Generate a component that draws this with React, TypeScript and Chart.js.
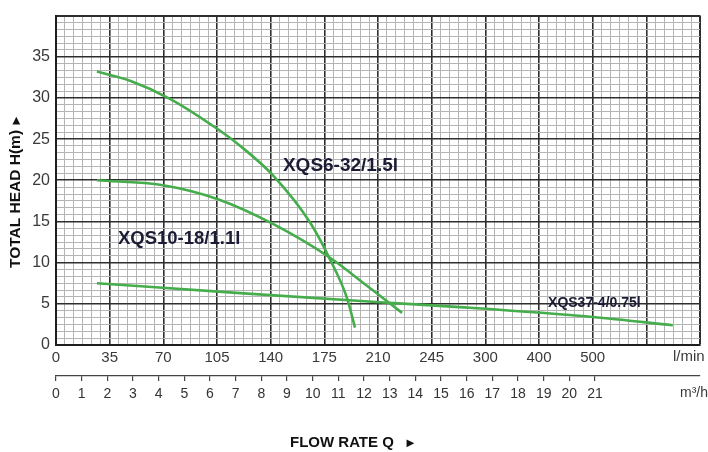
import React, { useEffect, useRef } from 'react';
import { Chart, registerables } from 'chart.js';

Chart.register(...registerables);

// Flow axis (l/min): 12 printed divisions, 35 l/min per division on the scale
const flowLabels = ['0', '35', '70', '105', '140', '175', '210', '245', '300', '400', '500', '', ''];
const flowPerDivision = 35;
const flowDivisions = 12;
const minorPerMajor = 6;

// Head axis (m)
const headLabels = ['0', '5', '10', '15', '20', '25', '30', '35', ''];
const headPerDivision = 5;
const headDivisions = 8;

// Second flow axis (m³/h)
const cubicLabels = ['0', '1', '2', '3', '4', '5', '6', '7', '8', '9', '10', '11', '12', '13', '14', '15', '16', '17', '18', '19', '20', '21'];
const cubicMax = 25.09;

// Pump curves
const xqs6Flow = [26.7, 48.3, 74.3, 105.6, 120, 141.5, 165.6, 178.7, 189.8, 195];
const xqs6Head = [33.2, 32.1, 29.9, 26.2, 24.2, 20.6, 14.9, 10.4, 5.7, 2.1];

const xqs10Flow = [26.7, 69.8, 105.6, 141.5, 178.7, 202.8, 225.7];
const xqs10Head = [20.0, 19.4, 17.7, 14.7, 10.6, 7.2, 3.9];

const xqs37Flow = [26.7, 120, 211.3, 263.4, 350.1, 402.3];
const xqs37Head = [7.5, 6.3, 5.2, 4.6, 3.4, 2.4];

// Curve name labels (anchored in data units)
const curveNames = ['XQS6-32/1.5l', 'XQS10-18/1.1l', 'XQS37-4/0.75l'];
const curveNameFlow = [148, 40.4, 320.9];
const curveNameHead = [21.8, 12.9, 5.1];
const curveNameSize = [19, 18.5, 14];

const GREEN = '#45ad4b';
const SANS = "'Liberation Sans', Arial, sans-serif";

const pts = (xs: number[], ys: number[]) => xs.map((x, i) => ({ x, y: ys[i] }));

const textPlugin = {
  id: 'pumpTexts',
  afterDraw(chart: any) {
    const { ctx, scales } = chart;
    const x = scales.x;
    const y = scales.y;
    const x2 = scales.x2;
    ctx.save();
    // curve names
    ctx.fillStyle = '#1b1b35';
    ctx.textBaseline = 'middle';
    ctx.textAlign = 'left';
    curveNames.forEach((name, i) => {
      ctx.font = `bold ${curveNameSize[i]}px ${SANS}`;
      ctx.fillText(name, x.getPixelForValue(curveNameFlow[i]), y.getPixelForValue(curveNameHead[i]));
    });
    // units
    ctx.fillStyle = '#3a3a3a';
    ctx.font = `15px ${SANS}`;
    ctx.fillText('l/min', x.right - 27, x.top + 12);
    ctx.font = `14px ${SANS}`;
    ctx.fillText('m³/h', x.right - 20, x2.top + 17);
    // axis titles
    ctx.fillStyle = '#111';
    ctx.font = `bold 15.5px ${SANS}`;
    ctx.save();
    ctx.translate(16, 192);
    ctx.rotate(-Math.PI / 2);
    const t = 'TOTAL HEAD H(m)';
    ctx.fillText(t, -76, 0);
    const w = ctx.measureText(t).width;
    ctx.font = `bold 13px ${SANS}`;
    ctx.fillText('►', -76 + w + 3, 0);
    ctx.restore();
    ctx.font = `bold 15px ${SANS}`;
    const b = 'FLOW RATE Q';
    ctx.fillText(b, 290, 443);
    ctx.font = `bold 13px ${SANS}`;
    ctx.fillText('►', 404, 443);
    ctx.restore();
  },
};

export default function App() {
  const ref = useRef<HTMLCanvasElement>(null);
  useEffect(() => {
    document.body.style.margin = '0';
    const xTickValues = Array.from({ length: flowDivisions * minorPerMajor + 1 }, (_, i) => (i * flowPerDivision) / minorPerMajor);
    const yTickValues = Array.from({ length: headDivisions * minorPerMajor + 1 }, (_, i) => (i * headPerDivision) / minorPerMajor);
    const lastX = xTickValues.length - 1;
    const lastY = yTickValues.length - 1;
    const lineDs = (label: string, xs: number[], ys: number[]) => ({
      label,
      data: pts(xs, ys),
      borderColor: GREEN,
      backgroundColor: GREEN,
      borderWidth: 2.6,
      pointRadius: 0,
      cubicInterpolationMode: 'monotone' as const,
      fill: false,
      xAxisID: 'x',
      yAxisID: 'y',
    });
    const chart = new Chart(ref.current!, {
      type: 'line',
      data: {
        datasets: [
          lineDs('XQS6-32/1.5l', xqs6Flow, xqs6Head),
          lineDs('XQS10-18/1.1l', xqs10Flow, xqs10Head),
          lineDs('XQS37-4/0.75l', xqs37Flow, xqs37Head),
        ],
      },
      options: {
        responsive: false,
        animation: false,
        layout: { padding: { top: 10, right: 8, left: 0, bottom: 0 } },
        plugins: { legend: { display: false }, tooltip: { enabled: false } },
        scales: {
          x: {
            type: 'linear',
            position: 'bottom',
            weight: 0,
            min: 0,
            max: flowPerDivision * flowDivisions,
            afterBuildTicks: (s: any) => {
              s.ticks = xTickValues.map((v) => ({ value: v }));
            },
            afterFit: (s: any) => {
              s.height = 31;
            },
            ticks: {
              autoSkip: false,
              maxRotation: 0,
              minRotation: 0,
              padding: 4,
              color: '#3a3a3a',
              font: { family: SANS, size: 15 },
              callback: (_v: any, i: number) => (i % minorPerMajor === 0 ? flowLabels[i / minorPerMajor] : ''),
            },
            grid: {
              drawTicks: false,
              color: (c: any) => (c.index % minorPerMajor === 0 ? '#2e2e2e' : '#b4b4b4'),
              lineWidth: (c: any) => (c.index === lastX ? 2 : c.index % minorPerMajor === 0 ? 1.6 : 1),
            },
            border: { display: true, color: '#1e1e1e', width: 2 },
          },
          x2: {
            type: 'linear',
            position: 'bottom',
            weight: 1,
            min: 0,
            max: cubicMax,
            afterBuildTicks: (s: any) => {
              s.ticks = cubicLabels.map((_, i) => ({ value: i }));
            },
            afterFit: (s: any) => {
              s.height = 76;
            },
            ticks: {
              autoSkip: false,
              maxRotation: 0,
              minRotation: 0,
              padding: 5,
              color: '#333',
              font: { family: SANS, size: 14 },
              callback: (_v: any, i: number) => cubicLabels[i],
            },
            grid: {
              drawOnChartArea: false,
              drawTicks: true,
              tickLength: 5,
              color: '#444',
              lineWidth: 1.2,
            },
            border: { display: true, color: '#444', width: 1.2 },
          },
          y: {
            type: 'linear',
            position: 'left',
            min: 0,
            max: headPerDivision * headDivisions,
            afterBuildTicks: (s: any) => {
              s.ticks = yTickValues.map((v) => ({ value: v }));
            },
            afterFit: (s: any) => {
              s.width = 56;
            },
            ticks: {
              autoSkip: false,
              padding: 6,
              color: '#3a3a3a',
              font: { family: SANS, size: 16 },
              callback: (_v: any, i: number) => (i % minorPerMajor === 0 ? headLabels[i / minorPerMajor] : ''),
            },
            grid: {
              drawTicks: false,
              color: (c: any) => (c.index % minorPerMajor === 0 ? '#2e2e2e' : '#b4b4b4'),
              lineWidth: (c: any) => (c.index === lastY ? 2 : c.index % minorPerMajor === 0 ? 1.6 : 1),
            },
            border: { display: true, color: '#1e1e1e', width: 2 },
          },
        },
      },
      plugins: [textPlugin],
    } as any);
    return () => chart.destroy();
  }, []);
  return (
    <div style={{ width: 708, height: 452, background: '#fff' }}>
      <canvas ref={ref} width={708} height={452} style={{ display: 'block' }} />
    </div>
  );
}
